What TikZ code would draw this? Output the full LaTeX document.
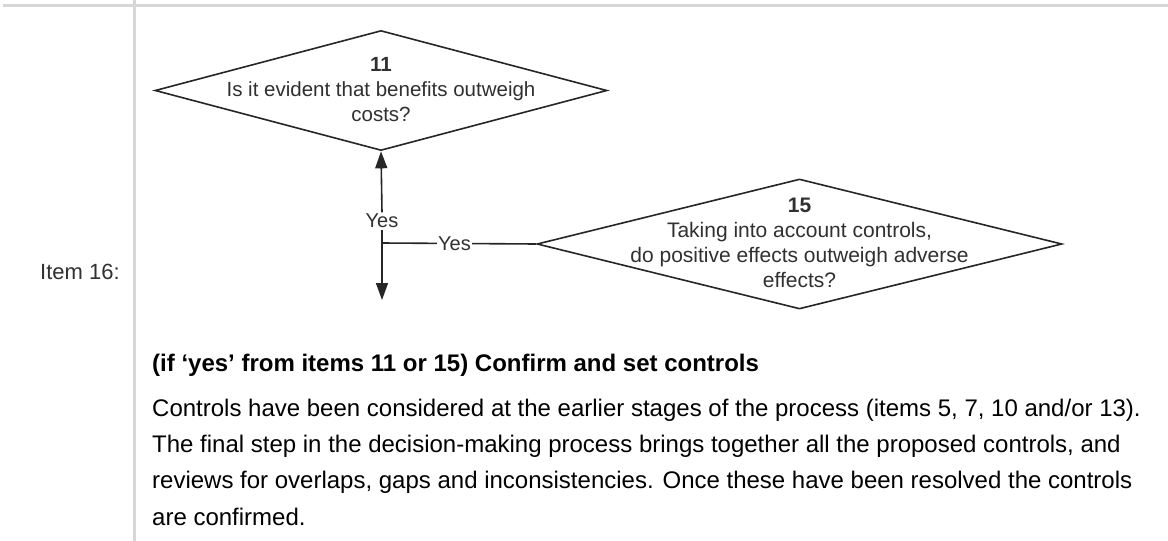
\documentclass[tikz,border=0pt]{standalone}
\usepackage{fontspec}
\setmainfont{Liberation Sans}
\usetikzlibrary{shapes.geometric,arrows.meta}
\definecolor{rule}{HTML}{D6D6D6}
\definecolor{ink}{HTML}{262626}
\definecolor{dtxt}{HTML}{303030}
\begin{document}
\begin{tikzpicture}[x=1pt,y=-1pt,
  decision/.style={draw=ink,line width=1.6pt,diamond,inner sep=0pt},
  dtext/.style={align=center,text=dtxt,inner sep=0pt},
  flow/.style={draw=ink,line width=1.6pt},
  arr/.style={flow,-{Triangle[length=17pt,width=12pt]}},
  lbl/.style={fill=white,text=dtxt,font=\fontsize{20}{24}\selectfont,inner sep=1.5pt},
  body/.style={anchor=west,inner sep=0pt,text=black,font=\fontsize{24}{28}\selectfont}]
\useasboundingbox[fill=white] (0,0) rectangle (1168,541);
% table rules
\fill[rule] (3,4) rectangle (1168,7);
\fill[rule] (133,0) rectangle (136,541);
% diamonds
\node[decision,minimum width=452pt,minimum height=120pt] (d11) at (381,90.5) {};
\node[dtext,font=\fontsize{20.5}{25}\selectfont] (t11) at (381,89.5) {\textbf{11}\\Is it evident that benefits outweigh\\costs?};
\node[decision,minimum width=525pt,minimum height=130pt] (d15) at (799.5,244) {};
\node[dtext,font=\fontsize{21}{25}\selectfont] (t15) at (799.5,242.5) {\textbf{15}\\Taking into account controls,\\do positive effects outweigh adverse\\effects?};
% connectors
\coordinate (j) at (382,243);
\coordinate (dn) at (382,300);
\node[lbl] (y1) at (382,221) {Yes};
\draw[arr] (y1.north) -- (d11.south);
\draw[flow] (y1.south) -- (j);
\draw[arr] (j) -- (dn);
\draw[flow] (d15.west) -- node[lbl,pos=0.53] (y2) {Yes} (j);
% text
\node[body,text=dtxt,font=\fontsize{22}{26}\selectfont] (item) at (40,272) {Item 16:};
\node[body,font=\bfseries\fontsize{24}{28}\selectfont] (head) at (152,365) {(if ‘yes’ from items 11 or 15) Confirm and set controls};
\node[body] (p1) at (152,410) {Controls have been considered at the earlier stages of the process (items 5, 7, 10 and/or 13).};
\node[body] (p2) at (152,446) {The final step in the decision-making process brings together all the proposed controls, and};
\node[body] (p3) at (152,482) {reviews for overlaps, gaps and inconsistencies. Once these have been resolved the controls};
\node[body] (p4) at (152,517) {are confirmed.};
\end{tikzpicture}
\end{document}
